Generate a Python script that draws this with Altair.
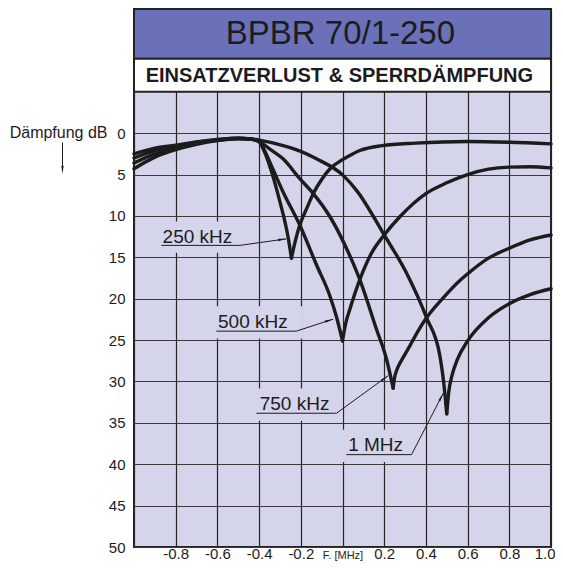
import math
import altair as alt
import pandas as pd

# ------------------------------------------------------------------
# Curve data (frequency offset in MHz, attenuation in dB)
# each notch curve is split into its left and right branch
# ------------------------------------------------------------------
k250_left_x = [-1.0, -0.9, -0.8, -0.7, -0.6, -0.5, -0.44, -0.4, -0.375, -0.35, -0.3, -0.26, -0.245]
k250_left_y = [2.5, 1.8, 1.45, 1.05, 0.75, 0.6, 0.7, 1.0, 2.2, 3.9, 8.3, 12.7, 15.1]
k250_right_x = [-0.245, -0.225, -0.205, -0.17, -0.14, -0.1, -0.06, 0.0, 0.035, 0.083, 0.19, 0.35, 0.6, 0.8, 1.0]
k250_right_y = [15.1, 12.9, 11.1, 9.0, 7.3, 5.6, 4.3, 3.2, 2.7, 2.1, 1.5, 1.2, 1.0, 1.1, 1.3]

k500_left_x = [-1.0, -0.9, -0.8, -0.7, -0.6, -0.5, -0.44, -0.4, -0.38, -0.333, -0.285, -0.205, -0.125, -0.06, -0.03, 0.0]
k500_left_y = [3.0, 2.1, 1.65, 1.1, 0.8, 0.62, 0.7, 1.0, 1.8, 4.4, 7.1, 11.1, 15.9, 19.7, 22.1, 25.1]
k500_right_x = [0.0, 0.015, 0.035, 0.083, 0.139, 0.2, 0.275, 0.4, 0.5, 0.6, 0.7, 0.8, 0.9, 1.0]
k500_right_y = [25.1, 23.0, 21.3, 17.7, 14.5, 12.3, 10.1, 7.3, 6.0, 5.0, 4.35, 4.1, 4.05, 4.2]

k750_left_x = [-1.0, -0.9, -0.8, -0.7, -0.6, -0.5, -0.44, -0.4, -0.35, -0.285, -0.205, -0.14, -0.06, 0.035, 0.083, 0.163, 0.21, 0.243]
k750_left_y = [3.6, 2.5, 1.85, 1.2, 0.85, 0.65, 0.72, 1.0, 1.9, 3.1, 5.5, 7.3, 10.1, 14.8, 17.7, 23.7, 27.2, 30.8]
k750_right_x = [0.243, 0.25, 0.259, 0.275, 0.291, 0.323, 0.36, 0.403, 0.483, 0.563, 0.6, 0.7, 0.8, 0.9, 1.0]
k750_right_y = [30.8, 29.5, 28.7, 27.8, 27.1, 25.7, 24.0, 22.3, 19.9, 17.8, 17.0, 15.1, 13.9, 12.9, 12.3]

m1_left_x = [-1.0, -0.9, -0.8, -0.7, -0.6, -0.5, -0.44, -0.4, -0.285, -0.2, -0.125, 0.003, 0.07, 0.2, 0.307, 0.403, 0.467, 0.49, 0.5]
m1_left_y = [4.3, 2.9, 2.0, 1.35, 0.9, 0.68, 0.7, 0.85, 1.5, 2.2, 3.1, 5.1, 7.0, 12.3, 16.9, 22.3, 26.9, 31.2, 33.9]
m1_right_x = [0.5, 0.51, 0.525, 0.55, 0.6, 0.7, 0.8, 0.9, 1.0]
m1_right_y = [33.9, 31.2, 29.3, 27.4, 25.1, 22.3, 20.6, 19.5, 18.8]

# axis ticks
x_ticks = [-1.0, -0.8, -0.6, -0.4, -0.2, 0.0, 0.2, 0.4, 0.6, 0.8, 1.0]
y_ticks = [0, 5, 10, 15, 20, 25, 30, 35, 40, 45, 50]

# curve labels with leader arrows (data coordinates)
label_text = ["250 kHz", "500 kHz", "750 kHz", "1 MHz"]
label_x = [-0.863, -0.597, -0.397, 0.027]
label_y = [12.57, 22.8, 32.75, 37.72]
underline_x0 = [-0.869, -0.605, -0.413, 0.019]
underline_x1 = [-0.493, -0.221, -0.029, 0.331]
underline_y = [13.56, 23.92, 33.84, 38.84]
arrow_x = [-0.269, -0.045, 0.219, 0.483]
arrow_y = [12.77, 22.47, 29.30, 31.43]

title_text = "BPBR 70/1-250"
subtitle_text = "EINSATZVERLUST & SPERRDÄMPFUNG"
y_title_text = "Dämpfung dB"

# ------------------------------------------------------------------
FONT = "Liberation Sans"
INK = "#1c1c1c"
BG = "#d4d4eb"
HEAD = "#6a71b8"
W, H = 417, 538
X_DOM = [-1, 1]
Y_DOM = [-15, 50]
PX_X = W / (X_DOM[1] - X_DOM[0])
PX_Y = H / (Y_DOM[1] - Y_DOM[0])

rows = []
for name, parts in [
    ("250", [(k250_left_x, k250_left_y, "L"), (k250_right_x, k250_right_y, "R")]),
    ("500", [(k500_left_x, k500_left_y, "L"), (k500_right_x, k500_right_y, "R")]),
    ("750", [(k750_left_x, k750_left_y, "L"), (k750_right_x, k750_right_y, "R")]),
    ("1000", [(m1_left_x, m1_left_y, "L"), (m1_right_x, m1_right_y, "R")]),
]:
    for xs_, ys_, b in parts:
        for i, (xv, yv) in enumerate(zip(xs_, ys_)):
            rows.append({"curve": name, "branch": name + b, "order": i, "x": xv, "y": yv})
curves_df = pd.DataFrame(rows)

xscale = alt.Scale(domain=X_DOM, nice=False, zero=False)
yscale = alt.Scale(domain=Y_DOM, reverse=True, nice=False, zero=False)

x_axis = alt.Axis(
    values=x_ticks, grid=True, gridColor="#262626", gridWidth=1.2, domain=False,
    ticks=False, tickSize=0, labelPadding=11, labelBaseline="alphabetic",
    labelFont=FONT, labelColor=INK, labelOverlap=False,
    labelFlush=True, labelFlushOffset=4,
    labelFontSize={"condition": {"test": "datum.value == 0", "value": 11}, "value": 15},
    labelExpr="datum.value < -0.99 ? '' : (datum.value == 0 ? 'F. [MHz]' : replace(format(datum.value, '.1f'), '\u2212', '-'))",
    title=None,
)
y_axis = alt.Axis(
    values=y_ticks, grid=True, gridColor="#3a3a3a", gridWidth=1.2, domain=False,
    ticks=False, tickSize=0, labelPadding=9, labelFont=FONT, labelFontSize=15,
    labelColor=INK, labelOverlap=False, labelFlush=False, title=None,
)


def X(field):
    return alt.X(field, type="quantitative", scale=xscale, axis=x_axis)


def Y(field):
    return alt.Y(field, type="quantitative", scale=yscale, axis=y_axis)


lines = alt.Chart(curves_df).mark_line(
    interpolate="monotone", color=INK, strokeWidth=3.4, strokeCap="round", strokeJoin="round"
).encode(
    x=X("x"), y=Y("y"),
    detail="branch:N",
    order="order:Q",
)

# header boxes
head_df = pd.DataFrame({"x": [X_DOM[0]], "x2": [X_DOM[1]], "y": [Y_DOM[0]], "y2": [-9]})
sub_df = pd.DataFrame({"x": [X_DOM[0]], "x2": [X_DOM[1]], "y": [-9], "y2": [-5]})
head = alt.Chart(head_df).mark_rect(fill=HEAD, stroke="#222", strokeWidth=2).encode(
    x=X("x"), x2="x2", y=Y("y"), y2="y2")
sub = alt.Chart(sub_df).mark_rect(fill="white", stroke="#222", strokeWidth=2).encode(
    x=X("x"), x2="x2", y=Y("y"), y2="y2")

title_df = pd.DataFrame({"x": [-0.01], "y": [-12.0], "t": [title_text]})
title = alt.Chart(title_df).mark_text(font=FONT, fontSize=33, color=INK, align="center", baseline="middle").encode(
    x=X("x"), y=Y("y"), text="t:N")
subt_df = pd.DataFrame({"x": [-0.015], "y": [-6.85], "t": [subtitle_text]})
subt = alt.Chart(subt_df).mark_text(font=FONT, fontSize=20, fontWeight="bold", color=INK, align="center", baseline="middle").encode(
    x=X("x"), y=Y("y"), text="t:N")

# y axis title with arrow
ytitle_df = pd.DataFrame({"x": [-1.127], "y": [0.0], "t": [y_title_text]})
ytitle = alt.Chart(ytitle_df).mark_text(font=FONT, fontSize=16, color=INK, align="right", baseline="middle").encode(
    x=X("x"), y=Y("y"), text="t:N")
yarrow_df = pd.DataFrame({"x": [-1.343], "y": [1.13], "y2": [4.4]})
yarrow = alt.Chart(yarrow_df).mark_rule(color=INK, strokeWidth=1).encode(
    x=X("x"), y=Y("y"), y2="y2")
ARROW_SHAPE = "M0,0L0.28,2L-0.28,2Z"
yhead_df = pd.DataFrame({"x": [-1.343], "y": [4.95]})
yhead = alt.Chart(yhead_df).mark_point(shape=ARROW_SHAPE, filled=True, color=INK, size=70, angle=180, opacity=1).encode(
    x=X("x"), y=Y("y"))

# curve labels
lab_rows = []
for i, t in enumerate(label_text):
    dx = (arrow_x[i] - underline_x1[i]) * PX_X
    dy = (arrow_y[i] - underline_y[i]) * PX_Y
    ang = math.degrees(math.atan2(dx, -dy)) % 360
    lab_rows.append({
        "t": t, "lx": label_x[i], "ly": label_y[i],
        "u0": underline_x0[i], "u1": underline_x1[i], "uy": underline_y[i],
        "ax": arrow_x[i], "ay": arrow_y[i], "ang": ang,
        "bx0": label_x[i] - 0.05, "bx1": underline_x1[i] + 0.03,
        "by0": label_y[i] - 1.9, "by1": underline_y[i] + 0.9,
    })
lab_df = pd.DataFrame(lab_rows)
lbase = alt.Chart(lab_df)
lab_bg = lbase.mark_rect(fill=BG).encode(
    x=X("bx0"), x2="bx1", y=Y("by0"), y2="by1")
lab_text = lbase.mark_text(font=FONT, fontSize=19, color=INK, align="left", baseline="middle").encode(
    x=X("lx"), y=Y("ly"), text="t:N")
lab_under = lbase.mark_rule(color=INK, strokeWidth=1).encode(
    x=X("u0"), x2="u1", y=Y("uy"))
lab_lead = lbase.mark_rule(color=INK, strokeWidth=1).encode(
    x=X("u1"), x2="ax", y=Y("uy"), y2="ay")
lab_head = lbase.mark_point(shape=ARROW_SHAPE, filled=True, color=INK, size=70, opacity=1).encode(
    x=X("ax"), y=Y("ay"),
    angle=alt.Angle("ang:Q", scale=None))

chart = alt.layer(
    lab_bg, lines, head, sub, title, subt, ytitle, yarrow, yhead,
    lab_under, lab_lead, lab_head, lab_text,
).properties(
    width=W, height=H,
    autosize=alt.AutoSizeParams(type="none"),
    padding={"left": 126, "top": 1, "right": 4, "bottom": 14},
).configure(
    background="white", font=FONT,
    view=alt.ViewConfig(fill=BG, stroke="#222", strokeWidth=2),
)

chart.save("out.html", embed_options={"renderer": "svg", "actions": False})
